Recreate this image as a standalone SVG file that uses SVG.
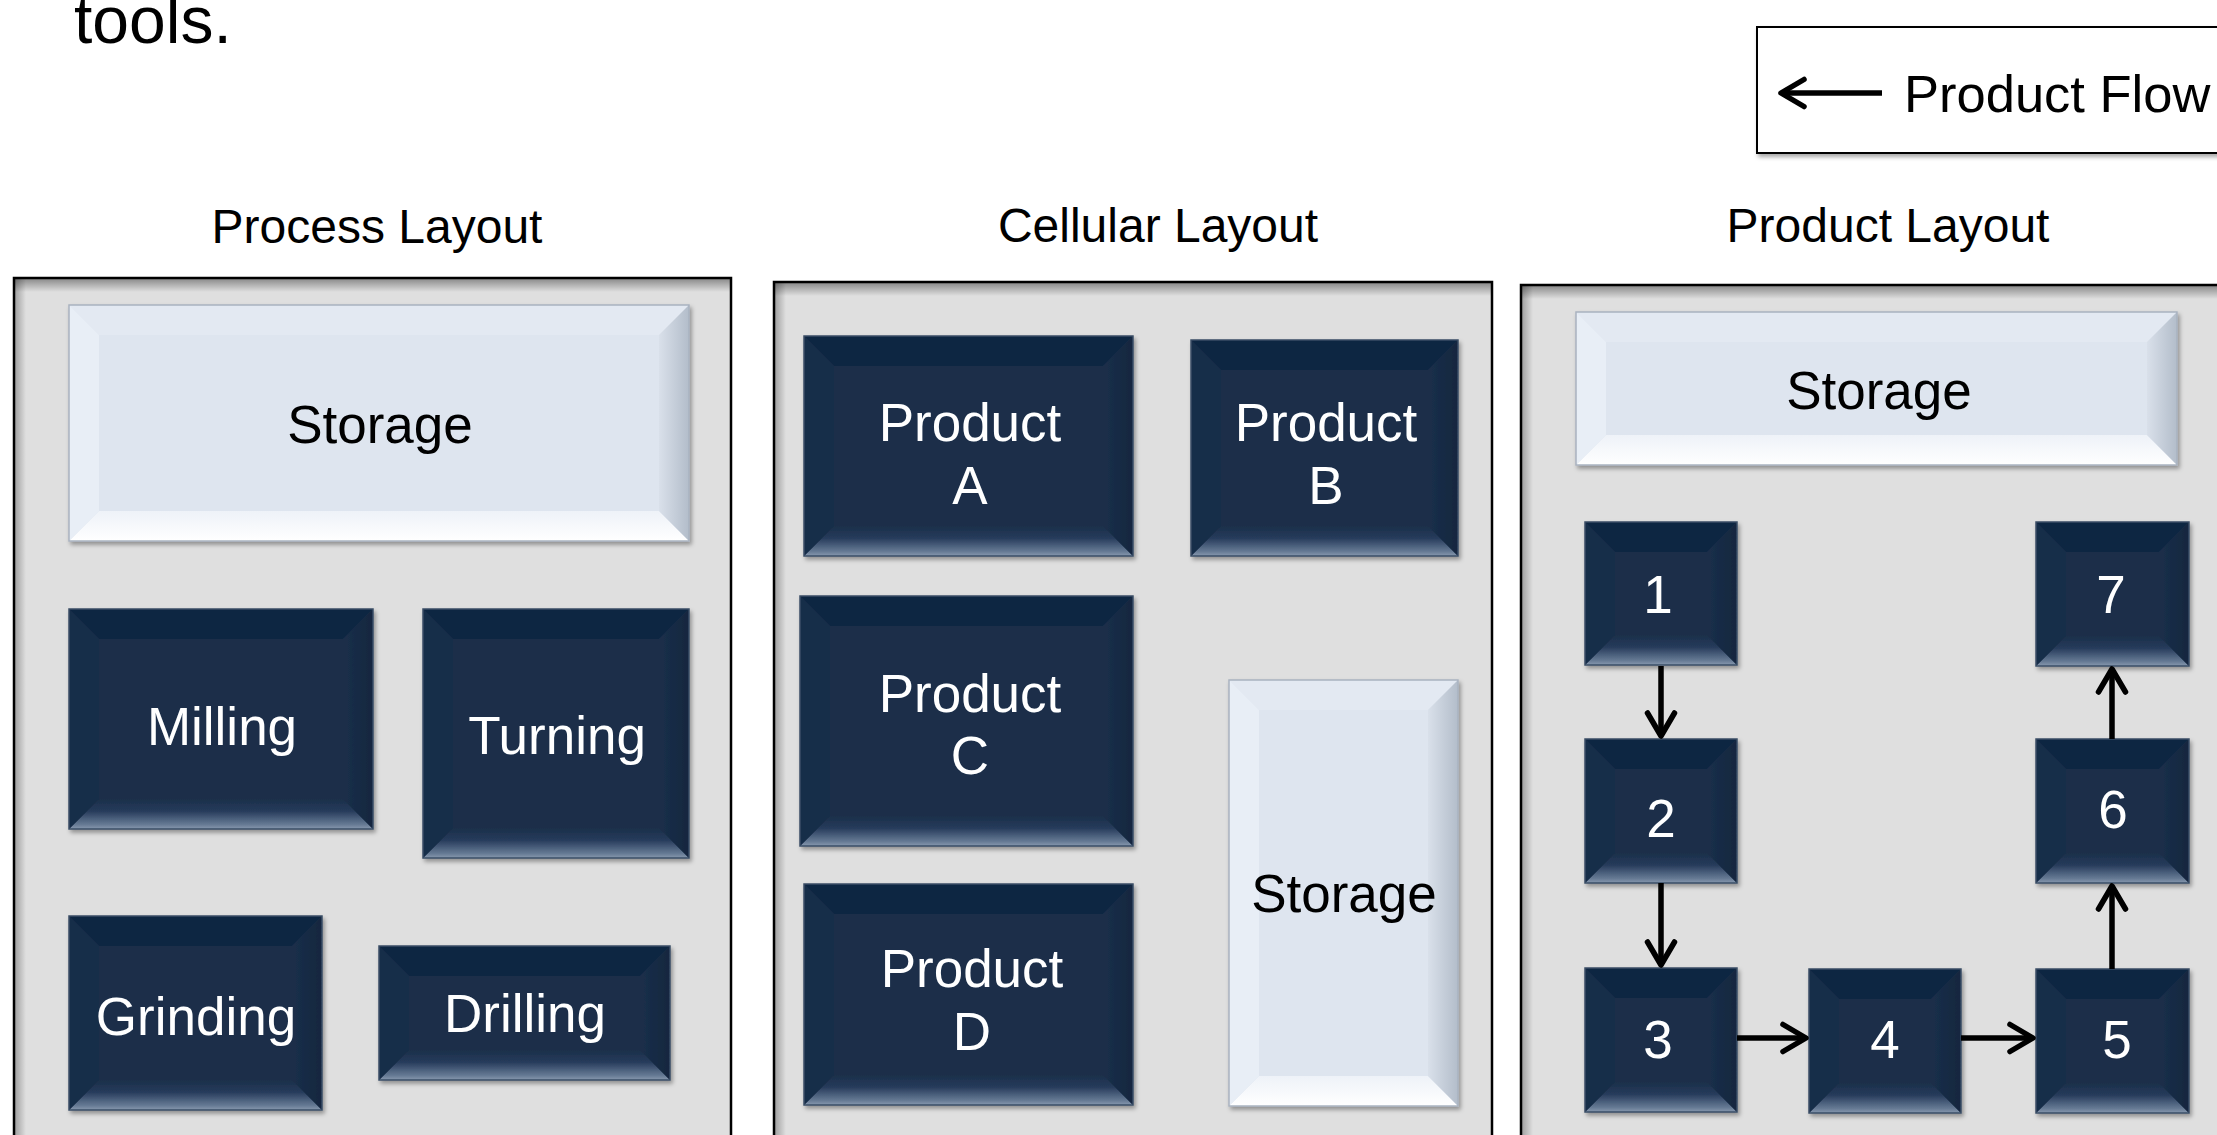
<svg xmlns="http://www.w3.org/2000/svg" width="2217" height="1135" viewBox="0 0 2217 1135">
<defs>
<style>
text{font-family:"Liberation Sans",Arial,sans-serif}
.h{font-size:48px;fill:#000;text-anchor:middle}
.wl{font-size:53px;fill:#fff;text-anchor:middle}
.bl{font-size:53px;fill:#000;text-anchor:middle}
.panel{fill:#dfdfdf}
.pborder{fill:none;stroke:#000;stroke-width:2.5}
.dface{fill:#1b2f4a}
.dtop{fill:#102743}
.dleft{fill:#182d48}
.dright{fill:url(#dR)}
.dbot{fill:url(#dB)}
.dout{fill:none;stroke:#3a4e66;stroke-width:1.5}
.lface{fill:#dee5ef}
.ltop{fill:#e3e9f2}
.lleft{fill:#e8eef6}
.lright{fill:url(#lR)}
.lbot{fill:url(#lB)}
.lout{fill:none;stroke:#a9b3c0;stroke-width:1.5}
.conn{fill:none;stroke:#000;stroke-width:5.5;marker-end:url(#ah)}
</style>
<linearGradient id="dR" x1="0" y1="0" x2="1" y2="0"><stop offset="0" stop-color="#1b2f4a"/><stop offset="1" stop-color="#13273f"/></linearGradient>
<linearGradient id="dB" x1="0" y1="0" x2="0" y2="1"><stop offset="0" stop-color="#1b2f4a"/><stop offset="0.4" stop-color="#263b5b"/><stop offset="0.85" stop-color="#667a94"/><stop offset="1" stop-color="#8798ae"/></linearGradient>
<linearGradient id="lR" x1="0" y1="0" x2="1" y2="0"><stop offset="0" stop-color="#d9e0ea"/><stop offset="1" stop-color="#b3bdca"/></linearGradient>
<linearGradient id="lB" x1="0" y1="0" x2="0" y2="1"><stop offset="0" stop-color="#eef2f8"/><stop offset="1" stop-color="#ffffff"/></linearGradient>
<linearGradient id="pT" x1="0" y1="0" x2="0" y2="1"><stop offset="0" stop-color="#000" stop-opacity="0.4"/><stop offset="1" stop-color="#000" stop-opacity="0"/></linearGradient>
<linearGradient id="pL" x1="0" y1="0" x2="1" y2="0"><stop offset="0" stop-color="#000" stop-opacity="0.3"/><stop offset="1" stop-color="#000" stop-opacity="0"/></linearGradient>
<filter id="sh" x="-10%" y="-10%" width="130%" height="130%"><feDropShadow dx="2" dy="3" stdDeviation="2" flood-color="#000" flood-opacity="0.35"/></filter>
<marker id="ah" viewBox="-30 -18 36 36" refX="0" refY="0" markerWidth="36" markerHeight="36" markerUnits="userSpaceOnUse" orient="auto">
<path d="M-23,-13.5 L0,0 L-23,13.5" fill="none" stroke="#000" stroke-width="5.5" stroke-linecap="round" stroke-linejoin="round"/>
</marker>
</defs>
<rect width="2217" height="1135" fill="#fff"/>

<text x="74" y="43" style="font-size:66px" fill="#000">tools.</text>

<g id="legend" filter="url(#sh)">
<rect x="1757" y="27" width="520" height="126" fill="#fff" stroke="#000" stroke-width="2"/>
<path d="M1882 93 H1781" class="conn"/>
<text x="1904" y="112" style="font-size:52.5px" fill="#000">Product Flow</text>
</g>

<g id="headings">
<text class="h" x="377" y="243">Process Layout</text>
<text class="h" x="1158" y="242">Cellular Layout</text>
<text class="h" x="1888" y="242">Product Layout</text>
</g>

<g id="panel-process">
<rect class="panel" x="14" y="278" width="717" height="870"/>
<rect x="14" y="278" width="717" height="14" fill="url(#pT)"/>
<rect x="14" y="278" width="12" height="870" fill="url(#pL)"/>
<rect class="pborder" x="14" y="278" width="717" height="870"/>
</g>
<g id="panel-cellular">
<rect class="panel" x="774" y="282" width="718" height="870"/>
<rect x="774" y="282" width="718" height="14" fill="url(#pT)"/>
<rect x="774" y="282" width="12" height="870" fill="url(#pL)"/>
<rect class="pborder" x="774" y="282" width="718" height="870"/>
</g>
<g id="panel-product">
<rect class="panel" x="1521" y="285" width="720" height="870"/>
<rect x="1521" y="285" width="720" height="14" fill="url(#pT)"/>
<rect x="1521" y="285" width="12" height="870" fill="url(#pL)"/>
<rect class="pborder" x="1521" y="285" width="720" height="870"/>
</g>

<g id="storage-process" filter="url(#sh)">
<rect class="lface" x="69" y="305" width="620" height="236"/>
<path class="ltop" d="M69 305h620l-30 30h-560z"/>
<path class="lbot" d="M69 541h620l-30-30h-560z"/>
<path class="lleft" d="M69 305l30 30v176l-30 30z"/>
<path class="lright" d="M689 305l-30 30v176l30 30z"/>
<rect class="lout" x="69" y="305" width="620" height="236"/>
<text class="bl" x="380" y="443">Storage</text>
</g>
<g id="milling" filter="url(#sh)">
<rect class="dface" x="69" y="609" width="304" height="220"/>
<path class="dtop" d="M69 609h304l-30 30h-244z"/>
<path class="dbot" d="M69 829h304l-30-30h-244z"/>
<path class="dleft" d="M69 609l30 30v160l-30 30z"/>
<path class="dright" d="M373 609l-30 30v160l30 30z"/>
<rect class="dout" x="69" y="609" width="304" height="220"/>
<text class="wl" x="222" y="745">Milling</text>
</g>
<g id="turning" filter="url(#sh)">
<rect class="dface" x="423" y="609" width="266" height="249"/>
<path class="dtop" d="M423 609h266l-30 30h-206z"/>
<path class="dbot" d="M423 858h266l-30-30h-206z"/>
<path class="dleft" d="M423 609l30 30v189l-30 30z"/>
<path class="dright" d="M689 609l-30 30v189l30 30z"/>
<rect class="dout" x="423" y="609" width="266" height="249"/>
<text class="wl" x="557" y="754">Turning</text>
</g>
<g id="grinding" filter="url(#sh)">
<rect class="dface" x="69" y="916" width="253" height="194"/>
<path class="dtop" d="M69 916h253l-30 30h-193z"/>
<path class="dbot" d="M69 1110h253l-30-30h-193z"/>
<path class="dleft" d="M69 916l30 30v134l-30 30z"/>
<path class="dright" d="M322 916l-30 30v134l30 30z"/>
<rect class="dout" x="69" y="916" width="253" height="194"/>
<text class="wl" x="196" y="1035">Grinding</text>
</g>
<g id="drilling" filter="url(#sh)">
<rect class="dface" x="379" y="946" width="291" height="134"/>
<path class="dtop" d="M379 946h291l-30 30h-231z"/>
<path class="dbot" d="M379 1080h291l-30-30h-231z"/>
<path class="dleft" d="M379 946l30 30v74l-30 30z"/>
<path class="dright" d="M670 946l-30 30v74l30 30z"/>
<rect class="dout" x="379" y="946" width="291" height="134"/>
<text class="wl" x="525" y="1032">Drilling</text>
</g>

<g id="product-a" filter="url(#sh)">
<rect class="dface" x="804" y="336" width="329" height="220"/>
<path class="dtop" d="M804 336h329l-30 30h-269z"/>
<path class="dbot" d="M804 556h329l-30-30h-269z"/>
<path class="dleft" d="M804 336l30 30v160l-30 30z"/>
<path class="dright" d="M1133 336l-30 30v160l30 30z"/>
<rect class="dout" x="804" y="336" width="329" height="220"/>
<text class="wl" x="970" y="441">Product</text>
<text class="wl" x="970" y="504">A</text>
</g>
<g id="product-b" filter="url(#sh)">
<rect class="dface" x="1191" y="340" width="267" height="216"/>
<path class="dtop" d="M1191 340h267l-30 30h-207z"/>
<path class="dbot" d="M1191 556h267l-30-30h-207z"/>
<path class="dleft" d="M1191 340l30 30v156l-30 30z"/>
<path class="dright" d="M1458 340l-30 30v156l30 30z"/>
<rect class="dout" x="1191" y="340" width="267" height="216"/>
<text class="wl" x="1326" y="441">Product</text>
<text class="wl" x="1326" y="504">B</text>
</g>
<g id="product-c" filter="url(#sh)">
<rect class="dface" x="800" y="596" width="333" height="250"/>
<path class="dtop" d="M800 596h333l-30 30h-273z"/>
<path class="dbot" d="M800 846h333l-30-30h-273z"/>
<path class="dleft" d="M800 596l30 30v190l-30 30z"/>
<path class="dright" d="M1133 596l-30 30v190l30 30z"/>
<rect class="dout" x="800" y="596" width="333" height="250"/>
<text class="wl" x="970" y="712">Product</text>
<text class="wl" x="970" y="774">C</text>
</g>
<g id="product-d" filter="url(#sh)">
<rect class="dface" x="804" y="884" width="329" height="221"/>
<path class="dtop" d="M804 884h329l-30 30h-269z"/>
<path class="dbot" d="M804 1105h329l-30-30h-269z"/>
<path class="dleft" d="M804 884l30 30v161l-30 30z"/>
<path class="dright" d="M1133 884l-30 30v161l30 30z"/>
<rect class="dout" x="804" y="884" width="329" height="221"/>
<text class="wl" x="972" y="987">Product</text>
<text class="wl" x="972" y="1050">D</text>
</g>
<g id="storage-cellular" filter="url(#sh)">
<rect class="lface" x="1229" y="680" width="229" height="426"/>
<path class="ltop" d="M1229 680h229l-30 30h-169z"/>
<path class="lbot" d="M1229 1106h229l-30-30h-169z"/>
<path class="lleft" d="M1229 680l30 30v366l-30 30z"/>
<path class="lright" d="M1458 680l-30 30v366l30 30z"/>
<rect class="lout" x="1229" y="680" width="229" height="426"/>
<text class="bl" x="1344" y="912">Storage</text>
</g>

<g id="storage-product" filter="url(#sh)">
<rect class="lface" x="1576" y="312" width="601" height="153"/>
<path class="ltop" d="M1576 312h601l-30 30h-541z"/>
<path class="lbot" d="M1576 465h601l-30-30h-541z"/>
<path class="lleft" d="M1576 312l30 30v93l-30 30z"/>
<path class="lright" d="M2177 312l-30 30v93l30 30z"/>
<rect class="lout" x="1576" y="312" width="601" height="153"/>
<text class="bl" x="1879" y="409">Storage</text>
</g>
<g id="step-1" filter="url(#sh)">
<rect class="dface" x="1585" y="522" width="152" height="143"/>
<path class="dtop" d="M1585 522h152l-30 30h-92z"/>
<path class="dbot" d="M1585 665h152l-30-30h-92z"/>
<path class="dleft" d="M1585 522l30 30v83l-30 30z"/>
<path class="dright" d="M1737 522l-30 30v83l30 30z"/>
<rect class="dout" x="1585" y="522" width="152" height="143"/>
<text class="wl" x="1658" y="613">1</text>
</g>
<g id="step-2" filter="url(#sh)">
<rect class="dface" x="1585" y="739" width="152" height="144"/>
<path class="dtop" d="M1585 739h152l-30 30h-92z"/>
<path class="dbot" d="M1585 883h152l-30-30h-92z"/>
<path class="dleft" d="M1585 739l30 30v84l-30 30z"/>
<path class="dright" d="M1737 739l-30 30v84l30 30z"/>
<rect class="dout" x="1585" y="739" width="152" height="144"/>
<text class="wl" x="1661" y="837">2</text>
</g>
<g id="step-3" filter="url(#sh)">
<rect class="dface" x="1585" y="968" width="152" height="144"/>
<path class="dtop" d="M1585 968h152l-30 30h-92z"/>
<path class="dbot" d="M1585 1112h152l-30-30h-92z"/>
<path class="dleft" d="M1585 968l30 30v84l-30 30z"/>
<path class="dright" d="M1737 968l-30 30v84l30 30z"/>
<rect class="dout" x="1585" y="968" width="152" height="144"/>
<text class="wl" x="1658" y="1058">3</text>
</g>
<g id="step-4" filter="url(#sh)">
<rect class="dface" x="1809" y="969" width="152" height="144"/>
<path class="dtop" d="M1809 969h152l-30 30h-92z"/>
<path class="dbot" d="M1809 1113h152l-30-30h-92z"/>
<path class="dleft" d="M1809 969l30 30v84l-30 30z"/>
<path class="dright" d="M1961 969l-30 30v84l30 30z"/>
<rect class="dout" x="1809" y="969" width="152" height="144"/>
<text class="wl" x="1885" y="1058">4</text>
</g>
<g id="step-5" filter="url(#sh)">
<rect class="dface" x="2036" y="969" width="153" height="144"/>
<path class="dtop" d="M2036 969h153l-30 30h-93z"/>
<path class="dbot" d="M2036 1113h153l-30-30h-93z"/>
<path class="dleft" d="M2036 969l30 30v84l-30 30z"/>
<path class="dright" d="M2189 969l-30 30v84l30 30z"/>
<rect class="dout" x="2036" y="969" width="153" height="144"/>
<text class="wl" x="2117" y="1058">5</text>
</g>
<g id="step-6" filter="url(#sh)">
<rect class="dface" x="2036" y="739" width="153" height="144"/>
<path class="dtop" d="M2036 739h153l-30 30h-93z"/>
<path class="dbot" d="M2036 883h153l-30-30h-93z"/>
<path class="dleft" d="M2036 739l30 30v84l-30 30z"/>
<path class="dright" d="M2189 739l-30 30v84l30 30z"/>
<rect class="dout" x="2036" y="739" width="153" height="144"/>
<text class="wl" x="2113" y="828">6</text>
</g>
<g id="step-7" filter="url(#sh)">
<rect class="dface" x="2036" y="522" width="153" height="144"/>
<path class="dtop" d="M2036 522h153l-30 30h-93z"/>
<path class="dbot" d="M2036 666h153l-30-30h-93z"/>
<path class="dleft" d="M2036 522l30 30v84l-30 30z"/>
<path class="dright" d="M2189 522l-30 30v84l30 30z"/>
<rect class="dout" x="2036" y="522" width="153" height="144"/>
<text class="wl" x="2111" y="613">7</text>
</g>

<g id="connectors">
<path class="conn" d="M1661 666 V736"/>
<path class="conn" d="M1661 883 V965"/>
<path class="conn" d="M1737 1038 H1806"/>
<path class="conn" d="M1961 1038 H2033"/>
<path class="conn" d="M2112 969 V886"/>
<path class="conn" d="M2112 739 V669"/>
</g>
</svg>
